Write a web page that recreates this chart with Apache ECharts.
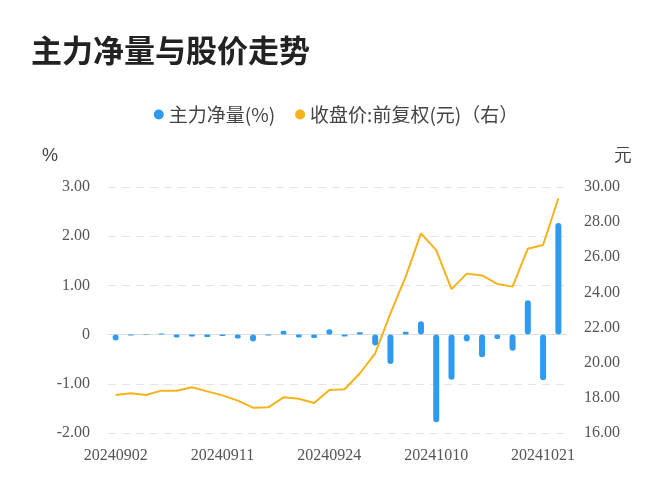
<!DOCTYPE html>
<html><head><meta charset="utf-8">
<script src="https://cdn.jsdelivr.net/npm/echarts@6/dist/echarts.min.js"></script>
<style>html,body{margin:0;background:#fff}#c{width:672px;height:500px}</style>
</head><body><div id="c"></div>
<script>
const dates = ["20240902","20240903","20240904","20240905","20240906","20240909","20240910","20240911","20240912","20240913",
  "20240918","20240919","20240920","20240923","20240924","20240925","20240926","20240927","20240930","20241008",
  "20241009","20241010","20241011","20241014","20241015","20241016","20241017","20241018","20241021","20241022"];
const netFlow = [-0.12,-0.02,0.01,0.02,-0.06,-0.04,-0.05,-0.03,-0.08,-0.14,
  -0.02,0.08,-0.06,-0.07,0.11,-0.04,0.05,-0.22,-0.6,0.06,
  0.27,-1.78,-0.92,-0.14,-0.46,-0.09,-0.33,0.70,-0.93,2.27];
const closePrice = [18.16,18.26,18.16,18.41,18.41,18.6,18.37,18.14,17.84,17.44,
  17.46,18.03,17.95,17.71,18.45,18.49,19.4,20.53,22.81,24.9,
  27.36,26.41,24.19,25.07,24.97,24.48,24.33,26.49,26.7,29.36];

const chart = echarts.init(document.getElementById("c"));
const lbl = { color: "#555", fontSize: 16, fontFamily: "Liberation Serif" };
chart.setOption({
    animation: false,
    title: { text: "主力净量与股价走势", left: 26, top: 30,
        textStyle: { fontSize: 31, fontWeight: "bold", color: "#222", fontFamily: "Noto Sans CJK SC" } },
    legend: { top: 100, left: "center", itemWidth: 10, itemHeight: 10, itemGap: 20,
        textStyle: { fontSize: 19, color: "#444", fontFamily: "Noto Sans CJK SC" },
        data: [{ name: "主力净量(%)", icon: "circle" }, { name: "收盘价:前复权(元)（右）", icon: "circle" }] },
    grid: { left: 108, right: 106, top: 187, bottom: 67 },
    xAxis: { type: "category", data: dates, boundaryGap: true,
        axisLine: { lineStyle: { color: "#ddd" } }, axisTick: { show: false },
        axisLabel: Object.assign({ interval: 6, margin: 15 }, lbl) },
    yAxis: [
        { type: "value", min: -2, max: 3, interval: 1, name: "%", nameGap: 22,
          nameTextStyle: { color: "#444", fontSize: 18, align: "right", padding: [0, 50, 0, 0] },
          axisLabel: Object.assign({ margin: 18, formatter: v => v === 0 ? "0" : v.toFixed(2) }, lbl),
          splitLine: { lineStyle: { type: [8, 6], color: "#e4e4e4" } } },
        { type: "value", min: 16, max: 30, interval: 2, name: "元", nameGap: 22,
          nameTextStyle: { color: "#444", fontSize: 18, align: "left", padding: [0, 0, 0, 48] },
          axisLabel: Object.assign({ margin: 18, formatter: v => v.toFixed(2) }, lbl),
          splitLine: { show: false } }
    ],
    series: [
        { name: "主力净量(%)", type: "bar", data: netFlow, barWidth: 6,
          itemStyle: { color: "#2f9bf0", borderRadius: 3 } },
        { name: "收盘价:前复权(元)（右）", type: "line", yAxisIndex: 1, data: closePrice,
          symbol: "none", lineStyle: { color: "#f6b21a", width: 2 }, itemStyle: { color: "#f6b21a" } }
    ]
});
</script></body></html>
